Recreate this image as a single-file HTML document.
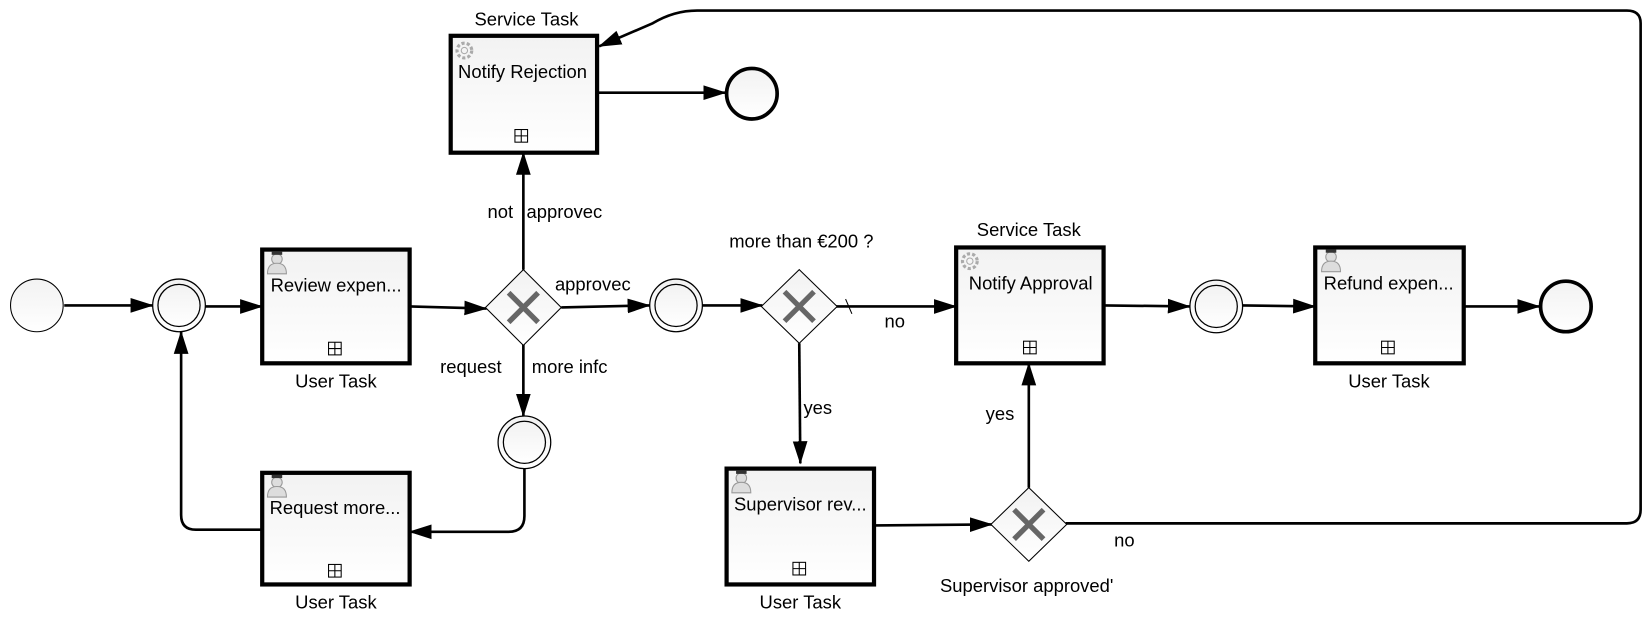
<!DOCTYPE html>
<html><head><meta charset="utf-8"><style>html,body{margin:0;padding:0;background:#fff;}svg{display:block;}text{font-family:"Liberation Sans",sans-serif;font-size:17.5px;fill:#000;}</style></head>
<body>
<svg width="1648" height="635" viewBox="0 0 1565 603" preserveAspectRatio="none" xmlns="http://www.w3.org/2000/svg">
<defs>
<marker id="a" markerUnits="userSpaceOnUse" markerWidth="22" markerHeight="16" refX="21" refY="8" orient="auto"><path d="M0,1 L22,8 L0,15 z" fill="#000"/></marker>
<linearGradient id="g" x1="0" y1="0" x2="0" y2="1"><stop offset="0" stop-color="#f2f2f2"/><stop offset="1" stop-color="#ffffff"/></linearGradient>
<clipPath id="c1"><rect x="428" y="34" width="139" height="111"/></clipPath>
<clipPath id="c2"><rect x="908" y="235" width="140" height="110"/></clipPath>
<g id="x"><path d="M-14,-14 L14,14 M14,-14 L-14,14" stroke="#666" stroke-width="5"/></g>
<g id="mk"><rect x="-6" y="-6" width="12" height="12" fill="none" stroke="#000" stroke-width="1"/><path d="M0,-6V6M-6,0H6" stroke="#000" stroke-width="1"/></g>
<g id="usr"><circle cx="0" cy="-4" r="5" fill="#ddd" stroke="#999"/><path d="M-5,-8 h10 v-3 h-10z" fill="#333"/><path d="M-9,10 q0,-10 9,-10 q9,0 9,10z" fill="#ddd" stroke="#999"/></g>
<g id="gear"><circle r="7" fill="none" stroke="#aaa" stroke-width="3" stroke-dasharray="3 2"/><circle r="3" fill="none" stroke="#aaa"/></g>
</defs>
<g fill="none" stroke="#000" stroke-width="2.5">
<path d="M61,290 H145" marker-end="url(#a)"/>
<path d="M195,291 H249" marker-end="url(#a)"/>
<path d="M389,291 L462,293" marker-end="url(#a)"/>
<path d="M497,256 V145" marker-end="url(#a)"/>
<path d="M567,88 H689" marker-end="url(#a)"/>
<path d="M533,292 L617,290" marker-end="url(#a)"/>
<path d="M497,326 V395" marker-end="url(#a)"/>
<path d="M498,445 V490 Q498,505 483,505 H389" marker-end="url(#a)"/>
<path d="M249,503 H186 Q172,503 172,489 V315" marker-end="url(#a)"/>
<path d="M667,290 H724" marker-end="url(#a)"/>
<path d="M794,291 H908" marker-end="url(#a)"/>
<path d="M759,326 L760,440" marker-end="url(#a)"/>
<path d="M830,499 L942,498" marker-end="url(#a)"/>
<path d="M977,463 V345" marker-end="url(#a)"/>
<path d="M1012,497 H1545 Q1558,497 1558,484 V22 Q1558,10 1545,10 H662 Q640,10 620,22 L569,44" marker-end="url(#a)"/>
<path d="M1048,290 L1130,291" marker-end="url(#a)"/>
<path d="M1180,290 L1249,291" marker-end="url(#a)"/>
<path d="M1390,291 H1462" marker-end="url(#a)"/>
</g>
<path d="M803,284 L809,298" stroke="#000" stroke-width="1"/>
<circle cx="35" cy="290" r="25" fill="url(#g)" stroke="#000" stroke-width="1"/>
<g fill="url(#g)" stroke="#000" stroke-width="1.2">
<circle cx="170" cy="290" r="25"/><circle cx="170" cy="290" r="20"/>
<circle cx="642" cy="290" r="25"/><circle cx="642" cy="290" r="20"/>
<circle cx="498" cy="420" r="25"/><circle cx="498" cy="420" r="20"/>
<circle cx="1155" cy="291" r="25"/><circle cx="1155" cy="291" r="20"/>
</g>
<circle cx="714" cy="89" r="24" fill="url(#g)" stroke="#000" stroke-width="3.5"/>
<circle cx="1487" cy="291" r="24" fill="url(#g)" stroke="#000" stroke-width="3.5"/>
<g fill="url(#g)" stroke="#000" stroke-width="4">
<rect x="249" y="237" width="140" height="108"/>
<rect x="428" y="34" width="139" height="111"/>
<rect x="249" y="449" width="140" height="106"/>
<rect x="908" y="235" width="140" height="110"/>
<rect x="690" y="445" width="140" height="110"/>
<rect x="1249" y="235" width="141" height="110"/>
</g>
<use href="#mk" x="318" y="331"/><use href="#mk" x="495" y="129"/><use href="#mk" x="318" y="542"/>
<use href="#mk" x="978" y="330"/><use href="#mk" x="759" y="540"/><use href="#mk" x="1318" y="330"/>
<use href="#usr" x="263" y="250"/><use href="#usr" x="263" y="462"/><use href="#usr" x="704" y="458"/><use href="#usr" x="1264" y="248"/>
<use href="#gear" x="441" y="48"/><use href="#gear" x="921" y="248"/>
<g fill="url(#g)" stroke="#000" stroke-width="1">
<path d="M497,256 L533,292 L497,328 L461,292z"/>
<path d="M759,256 L795,291 L759,326 L723,291z"/>
<path d="M977,463 L1013,498 L977,533 L941,498z"/>
</g>
<use href="#x" x="497" y="292"/><use href="#x" x="759" y="291"/><use href="#x" x="977" y="498"/>
<text x="257" y="277">Review expen...</text>
<text x="435" y="74" clip-path="url(#c1)">Notify Rejection</text>
<text x="256" y="488">Request more...</text>
<text x="920" y="275" clip-path="url(#c2)">Notify Approval</text>
<text x="697" y="485">Supervisor rev...</text>
<text x="1257" y="275">Refund expen...</text>
<g text-anchor="middle">
<text x="500" y="24">Service Task</text>
<text x="977" y="224">Service Task</text>
<text x="319" y="368">User Task</text>
<text x="319" y="578">User Task</text>
<text x="760" y="578">User Task</text>
<text x="1319" y="368">User Task</text>
<text x="761" y="235">more than €200 ?</text>
<text x="975" y="562">Supervisor approved'</text>
</g>
<text x="463" y="207">not</text><text x="500" y="207">approvec</text>
<text x="527" y="276">approvec</text>
<text x="418" y="354">request</text><text x="505" y="354">more infc</text>
<text x="840" y="311">no</text>
<text x="763" y="393">yes</text>
<text x="936" y="399">yes</text>
<text x="1058" y="519">no</text>
</svg>
</body></html>
